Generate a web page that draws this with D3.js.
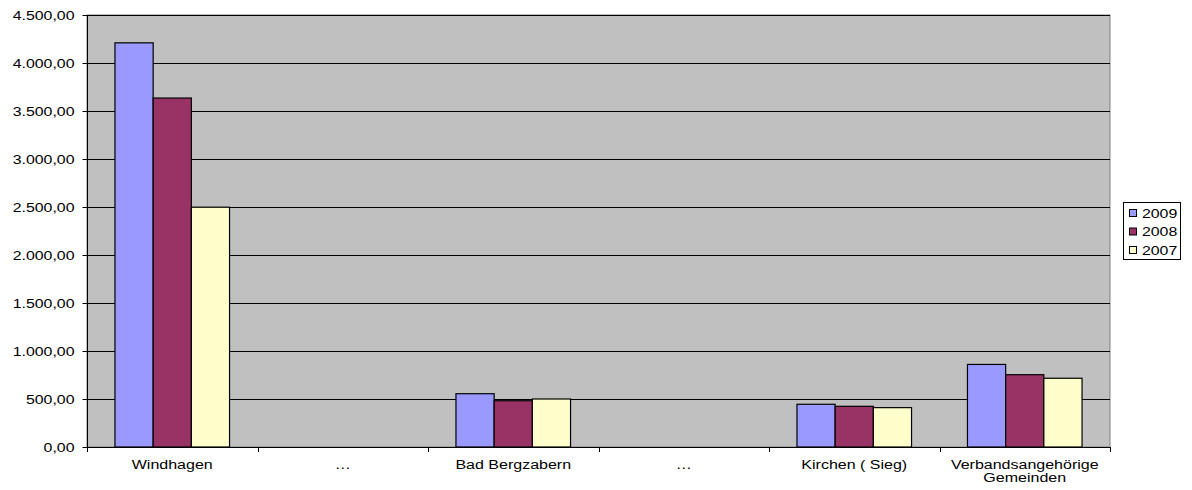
<!DOCTYPE html>
<html><head><meta charset="utf-8">
<script src="https://cdn.jsdelivr.net/npm/d3@7"></script>
<style>body{margin:0;background:#fff}svg{display:block}text{font-family:"Liberation Sans",Arial,sans-serif}</style>
</head><body><svg id="c" width="1192" height="490"></svg>
<script>
const categories = ["Windhagen", "…", "Bad Bergzabern", "…", "Kirchen ( Sieg)", "Verbandsangehörige Gemeinden"];
const seriesNames = ["2009", "2008", "2007"];
const values2009 = [4210, 0, 555, 0, 445, 860];
const values2008 = [3635, 0, 482, 0, 424, 753];
const values2007 = [2498, 0, 500, 0, 410, 716];
const yTicks = [0, 500, 1000, 1500, 2000, 2500, 3000, 3500, 4000, 4500];
const colors = ["#9999FF", "#993366", "#FFFFCC"];
const seriesValues = [values2009, values2008, values2007];

const svg = d3.select("#c");
const L = 87, R = 1110, T = 15, B = 447;
const x = d3.scaleBand().domain(d3.range(categories.length)).range([L, R]).paddingInner(0).paddingOuter(0);
const y = d3.scaleLinear().domain([0, 4500]).range([B, T]);
const fmt = v => {
  const s = v.toFixed(2).split(".");
  return s[0].replace(/\B(?=(\d{3})+(?!\d))/g, ".") + "," + s[1];
};
// widen text horizontally like the original renderer
function stretch(sel, k) {
  sel.each(function () {
    const w = this.getComputedTextLength();
    d3.select(this).attr("textLength", w * k).attr("lengthAdjust", "spacingAndGlyphs");
  });
}

svg.append("rect").attr("x", L).attr("y", T).attr("width", R - L).attr("height", B - T).attr("fill", "#C0C0C0").attr("stroke", "#808080");

// gridlines
svg.append("g").selectAll("line").data(yTicks.filter(d => d > 0)).join("line")
  .attr("x1", L).attr("x2", R).attr("y1", d => Math.round(y(d)) + 0.5).attr("y2", d => Math.round(y(d)) + 0.5)
  .attr("stroke", "#000").attr("stroke-width", 1);

// bars
const bw = x.bandwidth() * 0.224;
const groupW = bw * 3;
categories.forEach((c, i) => {
  const x0 = x(i) + (x.bandwidth() - groupW) / 2;
  seriesValues.forEach((vals, s) => {
    const v = vals[i];
    if (!v) return;
    svg.append("rect")
      .attr("x", x0 + s * bw).attr("y", y(v)).attr("width", bw).attr("height", y(0) - y(v))
      .attr("fill", colors[s]).attr("stroke", "#000").attr("stroke-width", 1.2);
  });
});

// y axis
const yAxis = d3.axisLeft(y).tickValues(yTicks).tickFormat(fmt).tickSize(5).tickPadding(8);
const gy = svg.append("g").attr("transform", `translate(${L + 0.5},0)`).call(yAxis);
gy.select(".domain").attr("stroke", "#000").attr("d", `M0,${T}V${B}`);
gy.selectAll(".tick line").attr("stroke", "#000");
gy.selectAll("text").attr("font-size", 12.5).attr("fill", "#000").attr("font-family", '"Liberation Sans",Arial,sans-serif').attr("dy", "0.36em");
stretch(gy.selectAll("text"), 1.27);

// x axis
svg.append("line").attr("x1", L).attr("x2", R).attr("y1", B + 0.5).attr("y2", B + 0.5).attr("stroke", "#000");
const bounds = d3.range(categories.length + 1).map(i => L + i * x.bandwidth());
svg.append("g").selectAll("line").data(bounds).join("line")
  .attr("x1", d => Math.round(d) + 0.5).attr("x2", d => Math.round(d) + 0.5)
  .attr("y1", B).attr("y2", B + 5).attr("stroke", "#000");

const lines = [["Windhagen"], ["…"], ["Bad Bergzabern"], ["…"], ["Kirchen ( Sieg)"], ["Verbandsangehörige", "Gemeinden"]];
categories.forEach((c, i) => {
  lines[i].forEach((ln, k) => {
    const t = svg.append("text").attr("x", x(i) + x.bandwidth() / 2).attr("y", 469 + k * 13)
      .attr("text-anchor", "middle").attr("font-size", 12.5).attr("fill", "#000").text(ln);
    stretch(t, 1.28);
  });
});

// legend
const lg = svg.append("g");
lg.append("rect").attr("x", 1123.5).attr("y", 202.5).attr("width", 57).attr("height", 57).attr("fill", "#fff").attr("stroke", "#000");
seriesNames.forEach((n, s) => {
  const cy = 213 + s * 18.5;
  lg.append("rect").attr("x", 1129.5).attr("y", cy - 3.5).attr("width", 7).attr("height", 7).attr("fill", colors[s]).attr("stroke", "#000");
  const t = lg.append("text").attr("x", 1142).attr("y", cy + 4.5).attr("font-size", 12).attr("fill", "#000").text(n);
  stretch(t, 1.32);
});
</script></body></html>
